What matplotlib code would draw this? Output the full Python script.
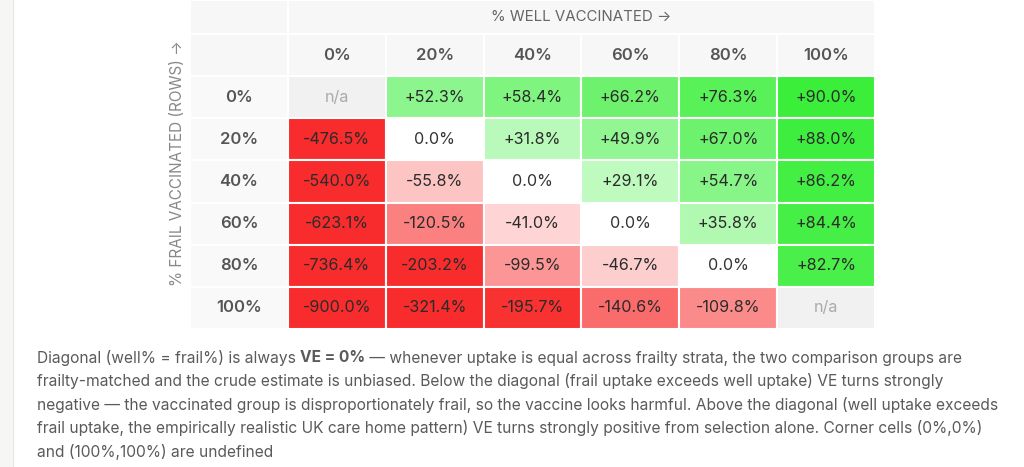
import numpy as np
import matplotlib
matplotlib.use("Agg")
import matplotlib.pyplot as plt
from matplotlib.patches import Rectangle

plt.rcParams['font.family'] = ['Inter', 'DejaVu Sans']

# % well vaccinated (columns) and % frail vaccinated (rows)
well_labels = ["0%", "20%", "40%", "60%", "80%", "100%"]
frail_labels = ["0%", "20%", "40%", "60%", "80%", "100%"]

# crude VE (%) for each frail row / well column, nan = undefined
ve_0 = [np.nan, 52.3, 58.4, 66.2, 76.3, 90.0]
ve_20 = [-476.5, 0.0, 31.8, 49.9, 67.0, 88.0]
ve_40 = [-540.0, -55.8, 0.0, 29.1, 54.7, 86.2]
ve_60 = [-623.1, -120.5, -41.0, 0.0, 35.8, 84.4]
ve_80 = [-736.4, -203.2, -99.5, -46.7, 0.0, 82.7]
ve_100 = [-900.0, -321.4, -195.7, -140.6, -109.8, np.nan]
ve = np.array([ve_0, ve_20, ve_40, ve_60, ve_80, ve_100])

col_title = "% WELL VACCINATED \u2192"
row_title = "% FRAIL VACCINATED (ROWS) \u2192"
caption = [
    ["Diagonal (well% = frail%) is always ", ("VE = 0%", "bold"),
     " \u2014 whenever uptake is equal across frailty strata, the two comparison groups are"],
    ["frailty-matched and the crude estimate is unbiased. Below the diagonal (frail uptake exceeds well uptake) VE turns strongly"],
    ["negative \u2014 the vaccinated group is disproportionately frail, so the vaccine looks harmful. Above the diagonal (well uptake exceeds"],
    ["frail uptake, the empirically realistic UK care home pattern) VE turns strongly positive from selection alone. Corner cells (0%,0%)"],
    ["and (100%,100%) are undefined"],
]

RED = np.array([248, 44, 44]) / 255
GREEN = np.array([58, 238, 58]) / 255
WHITE = np.array([1.0, 1.0, 1.0])
HEAD_BG = "#f7f7f7"


def cell_color(v):
    if np.isnan(v):
        return "#f1f1f1"
    if v < 0:
        t = min(-v / 200.0, 1.0)
        return WHITE + (RED - WHITE) * t
    t = min(v / 90.0, 1.0)
    return WHITE + (GREEN - WHITE) * t


W, H = 1024, 467
fig = plt.figure(figsize=(W / 100, H / 100), dpi=100)
fig.patch.set_facecolor("white")

# left page margin strip
strip = fig.add_axes([0, 0, 13 / W, 1])
strip.set_facecolor("#f6f6f4")
strip.set_xticks([])
strip.set_yticks([])
for s in ["top", "left", "bottom"]:
    strip.spines[s].set_visible(False)
strip.spines["right"].set_color("#e6e6e6")

top_h = 34 / 42
ax = fig.add_axes([190 / W, (H - 329) / H, 685 / W, 329 / H])
ax.set_xlim(-1, 6)
ax.set_ylim(6, -1 - top_h)
ax.axis("off")

grid_kw = dict(edgecolor="white", linewidth=1.5)

# top header row
ax.add_patch(Rectangle((-1, -1 - top_h), 1, top_h, facecolor=HEAD_BG, **grid_kw))
ax.add_patch(Rectangle((0, -1 - top_h), 6, top_h, facecolor=HEAD_BG, **grid_kw))
ax.text(3, -1 - top_h / 2, col_title, ha="center", va="center",
        fontsize=10.8, color="#666666")

# column header row
ax.add_patch(Rectangle((-1, -1), 1, 1, facecolor=HEAD_BG, **grid_kw))
for j, lab in enumerate(well_labels):
    ax.add_patch(Rectangle((j, -1), 1, 1, facecolor=HEAD_BG, **grid_kw))
    ax.text(j + 0.5, -0.5, lab, ha="center", va="center", fontsize=12,
            fontweight="semibold", color="#555555")

# data rows
for i, lab in enumerate(frail_labels):
    ax.add_patch(Rectangle((-1, i), 1, 1, facecolor="#f9f9f9", **grid_kw))
    ax.text(-0.5, i + 0.5, lab, ha="center", va="center", fontsize=12,
            fontweight="semibold", color="#555555")
    for j in range(len(well_labels)):
        v = ve[i, j]
        ax.add_patch(Rectangle((j, i), 1, 1, facecolor=cell_color(v), **grid_kw))
        if np.isnan(v):
            txt, col = "n/a", "#aaaaaa"
        elif v == 0:
            txt, col = "0.0%", "#333333"
        else:
            txt, col = f"{v:+.1f}%", "#2b2b2b"
        ax.text(j + 0.5, i + 0.5, txt, ha="center", va="center",
                fontsize=11.6, color=col)

fig.text(178 / W, 1 - 163 / H, row_title, rotation=90, ha="center", va="center",
         fontsize=11, color="#888888")

# caption paragraph
renderer = fig.canvas.get_renderer()
y0 = 358
for k, line in enumerate(caption):
    x = 37 / W
    y = 1 - (y0 + k * 23.4) / H
    for piece in line:
        if isinstance(piece, tuple):
            s, wt = piece
        else:
            s, wt = piece, "normal"
        t = fig.text(x, y, s, ha="left", va="center", fontsize=11.2,
                     color="#5a5a5a", fontweight=wt)
        bb = t.get_window_extent(renderer=renderer)
        x += bb.width / W

fig.savefig("out.png", dpi=100, facecolor=fig.get_facecolor())
